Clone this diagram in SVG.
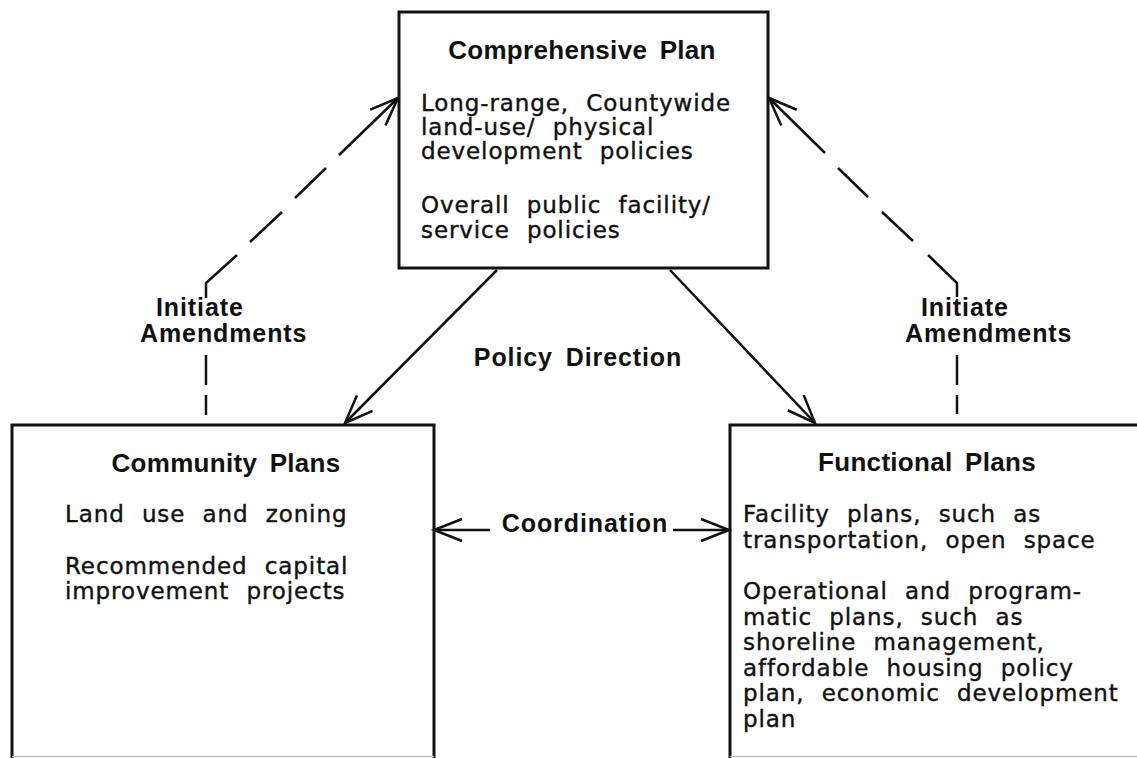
<svg xmlns="http://www.w3.org/2000/svg" width="1137" height="758" viewBox="0 0 1137 758">
  <style>
    .box { fill: #ffffff; stroke: #111111; stroke-width: 3; }
    .edge { fill: none; stroke: #111111; stroke-width: 3; }
    .foot { fill: none; stroke: #bdbdbd; stroke-width: 1.5; }
    .title { font-family: "Liberation Sans", Arial, sans-serif; font-weight: bold; font-size: 26px; letter-spacing: 0.3px; word-spacing: 5px; fill: #111111; }
    .body { font-family: "DejaVu Sans", "Liberation Sans", sans-serif; font-size: 23px; letter-spacing: 0.9px; word-spacing: 9px; fill: #111111; stroke: #111111; stroke-width: 0.4px; }
    .label { font-family: "Liberation Sans", Arial, sans-serif; font-weight: bold; font-size: 25px; letter-spacing: 0.9px; word-spacing: 5px; fill: #111111; }
    .link { fill: none; stroke: #111111; stroke-width: 2.5; stroke-linecap: butt; stroke-linejoin: miter; }
    .mid { text-anchor: middle; }
  </style>
  <defs>
    <marker id="vhead" markerUnits="userSpaceOnUse" markerWidth="40" markerHeight="40" viewBox="-32 -20 40 40" refX="0" refY="0" orient="auto">
      <path d="M-28,-11 L0,0 L-28,11" fill="none" stroke="#111111" stroke-width="2.5"/>
    </marker>
  </defs>

  <rect x="0" y="0" width="1137" height="758" fill="#ffffff"/>

  <!-- Comprehensive Plan -->
  <g id="comprehensive-plan">
    <rect class="box" x="399" y="12" width="369" height="256"/>
    <text class="title mid" x="582" y="59">Comprehensive Plan</text>
    <text class="body" x="421" y="111">Long-range, Countywide</text>
    <text class="body" x="421" y="135">land-use/ physical</text>
    <text class="body" x="421" y="159">development policies</text>
    <text class="body" x="421" y="213">Overall public facility/</text>
    <text class="body" x="421" y="238">service policies</text>
  </g>

  <!-- Community Plans: the box runs off the bottom of the sheet -->
  <g id="community-plans">
    <path class="edge" d="M12,760 V425 H434 V760"/>
    <line class="foot" x1="12" y1="756.5" x2="434" y2="756.5"/>
    <text class="title mid" x="226" y="472">Community Plans</text>
    <text class="body" x="65" y="522">Land use and zoning</text>
    <text class="body" x="65" y="574">Recommended capital</text>
    <text class="body" x="65" y="599">improvement projects</text>
  </g>

  <!-- Functional Plans: runs off the right and bottom edges -->
  <g id="functional-plans">
    <path class="edge" d="M730,760 V425 H1140"/>
    <line class="foot" x1="730" y1="756.5" x2="1137" y2="756.5"/>
    <text class="title mid" x="927" y="471">Functional Plans</text>
    <text class="body" x="743" y="522">Facility plans, such as</text>
    <text class="body" x="743" y="547.5">transportation, open space</text>
    <text class="body" x="743" y="599">Operational and program-</text>
    <text class="body" x="743" y="624.5">matic plans, such as</text>
    <text class="body" x="743" y="650">shoreline management,</text>
    <text class="body" x="743" y="675.5">affordable housing policy</text>
    <text class="body" x="743" y="701">plan, economic development</text>
    <text class="body" x="743" y="726.5">plan</text>
  </g>

  <!-- Connectors -->
  <g id="connectors">
    <!-- policy direction -->
    <line class="link" x1="497" y1="270" x2="345" y2="423" marker-end="url(#vhead)"/>
    <line class="link" x1="670" y1="270" x2="815" y2="423" marker-end="url(#vhead)"/>

    <!-- coordination -->
    <line class="link" x1="490" y1="530" x2="434" y2="530" marker-end="url(#vhead)"/>
    <line class="link" x1="673" y1="530" x2="729" y2="530" marker-end="url(#vhead)"/>

    <!-- initiate amendments, left -->
    <line class="link" x1="206" y1="415" x2="206" y2="395"/>
    <line class="link" x1="206" y1="385" x2="206" y2="355"/>
    <polyline class="link" points="206,298 206,283 237,255"/>
    <line class="link" x1="250" y1="242" x2="282" y2="212"/>
    <line class="link" x1="295" y1="198" x2="326" y2="168"/>
    <line class="link" x1="339" y1="155" x2="398" y2="98" marker-end="url(#vhead)"/>

    <!-- initiate amendments, right -->
    <line class="link" x1="957" y1="414" x2="957" y2="395"/>
    <line class="link" x1="957" y1="385" x2="957" y2="355"/>
    <polyline class="link" points="957,297 957,283 928,255"/>
    <line class="link" x1="913" y1="241" x2="882" y2="212"/>
    <line class="link" x1="868" y1="197" x2="838" y2="168"/>
    <line class="link" x1="825" y1="153" x2="769" y2="98" marker-end="url(#vhead)"/>
  </g>

  <!-- Connector labels -->
  <g id="labels">
    <text class="label" x="156" y="316">Initiate</text>
    <text class="label" x="140" y="342">Amendments</text>
    <text class="label" x="921" y="316">Initiate</text>
    <text class="label" x="905" y="342">Amendments</text>
    <text class="label mid" x="578" y="366">Policy Direction</text>
    <text class="label mid" x="585" y="532">Coordination</text>
  </g>
</svg>
